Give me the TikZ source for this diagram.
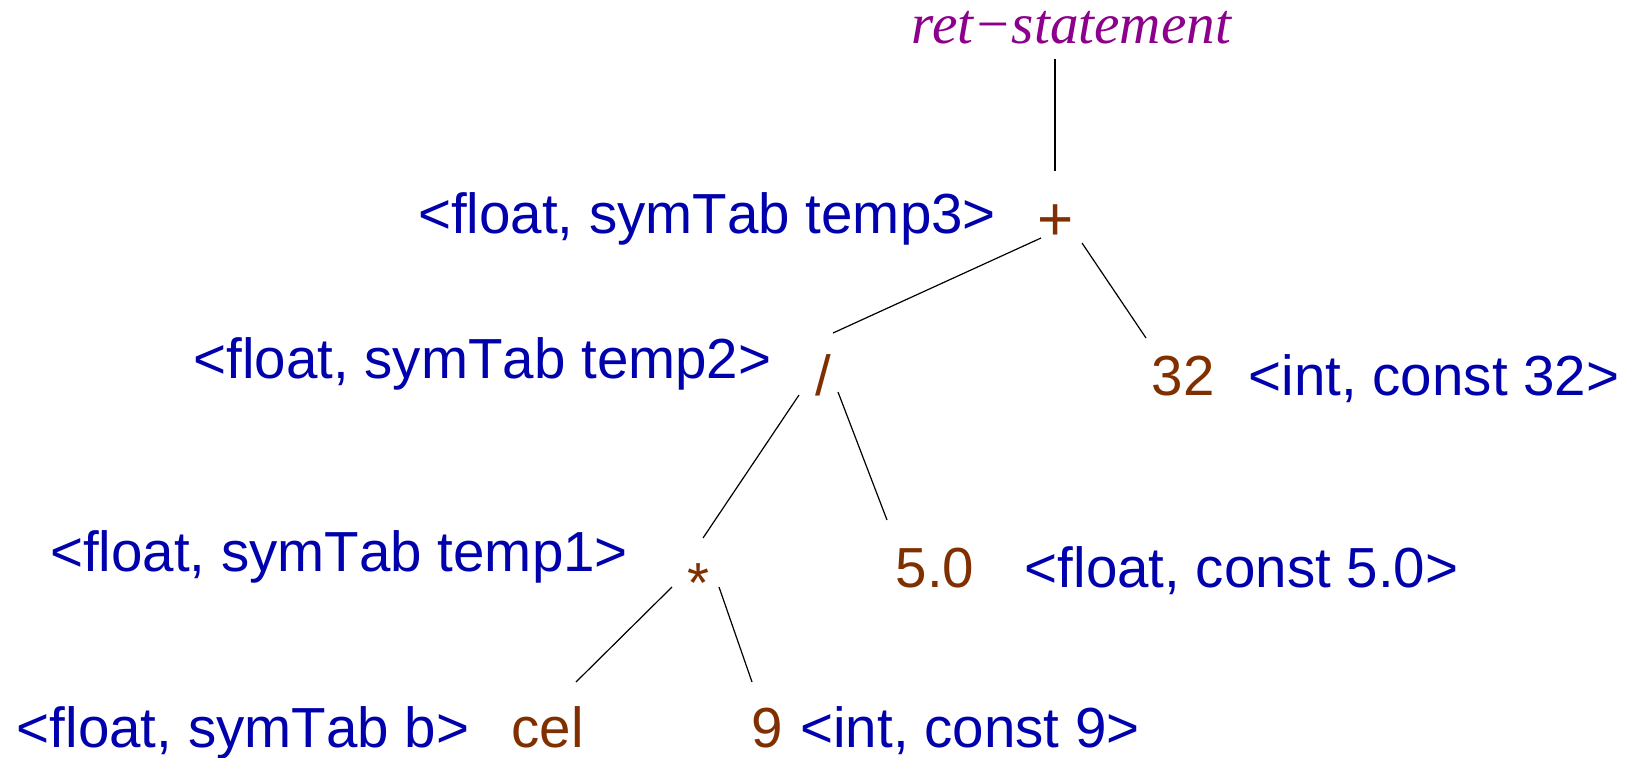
\documentclass[tikz,border=0pt]{standalone}
\usepackage{fontspec}
\setmainfont{Liberation Sans}[Kerning=Off]
\newfontfamily\serifit{Liberation Serif}[ItalicFont={* Italic}]
\definecolor{lblblue}{RGB}{0,0,172}
\definecolor{opbrown}{RGB}{128,48,0}
\definecolor{rootpurple}{RGB}{140,0,140}
\begin{document}
\begin{tikzpicture}[x=0.5pt,y=-0.5pt,
  every node/.style={inner sep=0pt, outer sep=0pt, font=\fontsize{28.25}{34}\selectfont},
  lbl/.style={anchor=base, text=lblblue},
  leaf/.style={anchor=base, text=opbrown},
  oper/.style={anchor=base, text=opbrown},
  root/.style={anchor=base, text=rootpurple, font=\fontsize{28.6}{34}\selectfont\serifit\itshape},
  edge/.style={draw=black, line width=0.6pt}]
\useasboundingbox (0,0) rectangle (1627,757);
% root
\node[root] (ret) at (1071.5,43) {ret−statement};
% level 1
\node[lbl] (t3) at (707,233) {<float, symTab temp3>};
\node[oper, font=\fontsize{31}{34}\selectfont] (plus) at (1056,240) {+};
% level 2
\node[lbl] (t2) at (482.5,378) {<float, symTab temp2>};
\node[oper] (div) at (823,395) {/};
\node[leaf] (c32) at (1183,395) {32};
\node[lbl] (i32) at (1434,395) {<int, const 32>};
% level 3
\node[lbl] (t1) at (339,571) {<float, symTab temp1>};
\node[oper] (mul) at (698.5,602) {*};
\node[leaf] (c50) at (935,587) {5.0};
\node[lbl] (f50) at (1241.5,587) {<float, const 5.0>};
% level 4
\node[lbl] (tb) at (243,747) {<float, symTab b>};
\node[leaf] (cel) at (547.5,747) {cel};
\node[leaf] (c9) at (767.5,747) {9};
\node[lbl] (i9) at (970,747) {<int, const 9>};
% connectors
\draw[edge] ([shift={(-16.5,16)}]ret.base) -- ([shift={(-1,-69)}]plus.base);
\draw[edge] ([shift={(-15,-2)}]plus.base) -- ([shift={(10,-62)}]div.base);
\draw[edge] ([shift={(26,3)}]plus.base) -- ([shift={(-37,-57)}]c32.base);
\draw[edge] ([shift={(-24,0)}]div.base) -- ([shift={(4.5,-64)}]mul.base);
\draw[edge] ([shift={(15,-3)}]div.base) -- ([shift={(-48,-67)}]c50.base);
\draw[edge] ([shift={(-26.5,-15)}]mul.base) -- ([shift={(28.5,-65)}]cel.base);
\draw[edge] ([shift={(20.5,-15)}]mul.base) -- ([shift={(-15.5,-65)}]c9.base);
\end{tikzpicture}
\end{document}
